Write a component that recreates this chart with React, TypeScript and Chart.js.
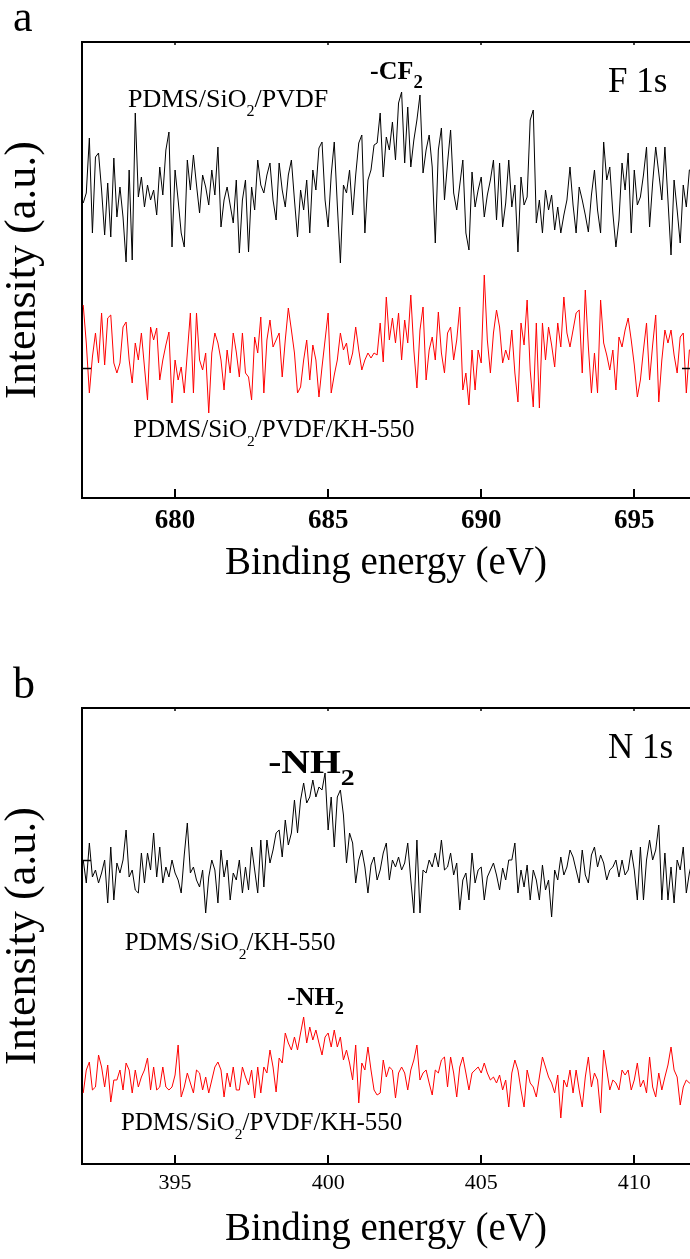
import React, { useEffect, useRef } from "react";
import { Chart, registerables } from "chart.js";

Chart.register(...registerables);

const SERIF = "'Liberation Serif', 'Times New Roman', Times, serif";

// ---------------- data ----------------
const STEP_EV = 0.1;
const F1S_START_EV = 677.0;
const N1S_START_EV = 392.0;

// F 1s, PDMS/SiO2/PVDF (black)
const f1sPdmsSiO2Pvdf = [
  297, 307, 362, 267, 343, 347, 310, 265, 317, 263,
  342, 283, 313, 283, 238, 330, 240, 387, 303, 323,
  293, 315, 300, 310, 285, 333, 305, 350, 368, 253,
  330, 300, 267, 253, 340, 310, 345, 315, 287, 325,
  313, 295, 330, 305, 353, 273, 300, 313, 295, 277,
  320, 247, 300, 320, 248, 313, 290, 340, 315, 307,
  325, 337, 300, 280, 337, 310, 293, 325, 340, 300,
  263, 310, 290, 320, 267, 330, 310, 352, 358, 300,
  273, 325, 358, 295, 237, 315, 307, 330, 285, 325,
  357, 365, 267, 320, 330, 355, 357, 387, 323, 363,
  350, 378, 340, 397, 408, 337, 393, 333, 360, 380,
  405, 327, 350, 365, 333, 257, 350, 372, 300, 337,
  370, 307, 290, 315, 340, 267, 250, 328, 293, 310,
  323, 283, 305, 320, 340, 280, 337, 273, 297, 340,
  293, 315, 248, 323, 295, 303, 380, 390, 277, 300,
  267, 310, 290, 305, 270, 293, 267, 285, 300, 333,
  295, 267, 313, 300, 285, 268, 305, 330, 290, 267,
  358, 320, 333, 287, 253, 280, 337, 310, 347, 267,
  330, 295, 303, 325, 353, 273, 317, 353, 327, 300,
  353, 300, 245, 320, 290, 257, 315, 293, 330, 333,
];

// F 1s, PDMS/SiO2/PVDF/KH-550 (red)
const f1sPdmsSiO2PvdfKh550 = [
  195, 157, 107, 143, 167, 137, 187, 135, 182, 185,
  137, 127, 137, 173, 178, 140, 117, 157, 140, 167,
  133, 100, 173, 160, 172, 120, 140, 155, 168, 97,
  140, 120, 133, 107, 147, 187, 107, 187, 140, 130,
  147, 87, 147, 167, 157, 140, 110, 150, 127, 167,
  148, 123, 167, 127, 123, 100, 163, 147, 183, 107,
  160, 180, 153, 160, 167, 123, 160, 192, 170, 147,
  107, 113, 140, 160, 120, 155, 140, 103, 133, 160,
  187, 107, 125, 140, 167, 150, 157, 135, 147, 173,
  150, 130, 140, 147, 142, 147, 145, 177, 138, 203,
  160, 182, 157, 187, 140, 180, 157, 205, 150, 112,
  170, 193, 120, 150, 163, 140, 188, 147, 127, 167,
  173, 140, 160, 193, 110, 127, 95, 150, 110, 150,
  137, 225, 160, 127, 167, 190, 173, 137, 150, 140,
  170, 127, 98, 177, 155, 200, 130, 93, 177, 92,
  177, 140, 173, 155, 133, 177, 153, 203, 167, 153,
  170, 187, 190, 127, 210, 153, 107, 147, 107, 200,
  157, 145, 130, 150, 110, 163, 153, 170, 182, 160,
  135, 103, 120, 150, 177, 120, 155, 185, 98, 140,
  170, 157, 170, 145, 127, 163, 167, 107, 150, 153,
];

// N 1s, PDMS/SiO2/KH-550 (black)
const n1sPdmsSiO2Kh550 = [
  306, 283, 323, 289, 296, 283, 293, 306, 263, 319,
  266, 303, 293, 306, 336, 289, 296, 276, 273, 313,
  283, 313, 296, 333, 289, 319, 283, 299, 289, 306,
  293, 286, 273, 311, 343, 293, 299, 286, 279, 296,
  253, 289, 306, 296, 263, 316, 289, 306, 266, 293,
  286, 306, 273, 299, 276, 319, 296, 273, 326, 279,
  326, 303, 316, 333, 336, 309, 346, 321, 333, 366,
  333, 366, 383, 363, 369, 386, 369, 379, 376, 393,
  336, 369, 319, 369, 376, 351, 303, 333, 323, 283,
  306, 316, 299, 273, 301, 309, 286, 296, 313, 323,
  286, 306, 299, 309, 296, 303, 323, 286, 253, 326,
  253, 296, 293, 306, 299, 313, 299, 326, 296, 299,
  313, 291, 303, 256, 286, 293, 266, 313, 283, 296,
  299, 266, 289, 296, 303, 291, 276, 298, 286, 306,
  306, 323, 273, 296, 279, 301, 266, 296, 286, 266,
  301, 276, 286, 249, 296, 286, 309, 291, 299, 316,
  309, 296, 283, 316, 291, 283, 311, 319, 299, 311,
  303, 286, 296, 299, 306, 289, 306, 291, 296, 316,
  296, 266, 319, 266, 306, 326, 306, 316, 341, 266,
  313, 266, 299, 263, 306, 296, 319, 273, 293, 306,
];

// N 1s, PDMS/SiO2/PVDF/KH-550 (red)
const n1sPdmsSiO2PvdfKh550 = [
  73, 96, 104, 76, 79, 111, 99, 79, 101, 64,
  86, 86, 96, 76, 103, 96, 73, 96, 79, 89,
  96, 108, 76, 99, 76, 79, 99, 79, 76, 79,
  91, 121, 69, 79, 93, 83, 73, 96, 93, 76,
  89, 73, 86, 99, 104, 96, 69, 93, 79, 99,
  76, 76, 99, 89, 81, 96, 68, 99, 73, 99,
  93, 116, 99, 74, 108, 103, 133, 123, 116, 129,
  116, 133, 149, 123, 139, 126, 136, 123, 111, 129,
  133, 119, 136, 119, 129, 106, 116, 103, 86, 121,
  63, 103, 96, 119, 96, 76, 71, 73, 106, 89,
  99, 96, 68, 93, 99, 93, 76, 96, 106, 121,
  86, 93, 96, 83, 71, 96, 93, 106, 109, 79,
  109, 93, 69, 99, 109, 93, 76, 93, 96, 99,
  93, 103, 93, 86, 89, 83, 91, 76, 86, 59,
  93, 106, 96, 76, 59, 96, 83, 79, 69, 89,
  109, 99, 89, 83, 73, 91, 48, 86, 79, 96,
  73, 96, 76, 59, 89, 109, 79, 93, 86, 53,
  116, 96, 76, 86, 83, 76, 96, 91, 96, 76,
  86, 103, 79, 86, 73, 109, 79, 69, 93, 76,
  89, 101, 119, 96, 89, 61, 79, 86, 83, 86,
];

const f1sTickValues = [680, 685, 690, 695];
const n1sTickValues = [395, 400, 405, 410];
const f1sMarkValues = [132];
const n1sMarkValues = [306];

const X_TITLE = "Binding energy (eV)";
const Y_TITLE = "Intensity (a.u.)";

// ---------------- layout / style ----------------
type Part = { t: string; sub?: boolean };
type Label = {
  parts: Part[];
  x: number;
  y: number;
  size: number;
  bold?: boolean;
  sx?: number;
  subScale?: number;
};

interface PanelCfg {
  key: string;
  top: number;
  height: number;
  chartTop: number;
  xAxisHeight: number;
  xMin: number;
  xMax: number;
  start: number;
  black: number[];
  red: number[];
  ticks: number[];
  marks: number[];
  rightMarks: boolean;
  tickSize: number;
  tickWeight: string;
  tickPadding: number;
  titlePadBottom: number;
  labels: Label[];
}

const panels: PanelCfg[] = [
  {
    key: "a",
    top: 0,
    height: 629,
    chartTop: 42,
    xAxisHeight: 131,
    xMin: 676.96,
    xMax: 696.82,
    start: F1S_START_EV,
    black: f1sPdmsSiO2Pvdf,
    red: f1sPdmsSiO2PvdfKh550,
    ticks: f1sTickValues,
    marks: f1sMarkValues,
    rightMarks: true,
    tickSize: 27,
    tickWeight: "bold",
    tickPadding: 7,
    titlePadBottom: 42,
    labels: [
      { parts: [{ t: "PDMS/SiO" }, { t: "2", sub: true }, { t: "/PVDF" }], x: 678.46, y: 393, size: 26 },
      { parts: [{ t: "-CF" }, { t: "2", sub: true }], x: 686.37, y: 421, size: 26, bold: true, subScale: 0.72 },
      { parts: [{ t: "F 1s" }], x: 694.14, y: 408, size: 35 },
      { parts: [{ t: "PDMS/SiO" }, { t: "2", sub: true }, { t: "/PVDF/KH-550" }], x: 678.63, y: 63, size: 25 },
    ],
  },
  {
    key: "b",
    top: 629,
    height: 630,
    chartTop: 79,
    xAxisHeight: 95,
    xMin: 391.96,
    xMax: 411.82,
    start: N1S_START_EV,
    black: n1sPdmsSiO2Kh550,
    red: n1sPdmsSiO2PvdfKh550,
    ticks: n1sTickValues,
    marks: n1sMarkValues,
    rightMarks: false,
    tickSize: 22,
    tickWeight: "normal",
    tickPadding: 6,
    titlePadBottom: 6,
    labels: [
      { parts: [{ t: "-NH" }, { t: "2", sub: true }], x: 398.04, y: 393, size: 33, bold: true, sx: 1.2, subScale: 0.7 },
      { parts: [{ t: "N 1s" }], x: 409.14, y: 408, size: 35 },
      { parts: [{ t: "PDMS/SiO" }, { t: "2", sub: true }, { t: "/KH-550" }], x: 393.36, y: 216, size: 25 },
      { parts: [{ t: "-NH" }, { t: "2", sub: true }], x: 398.66, y: 161, size: 26, bold: true, subScale: 0.7 },
      { parts: [{ t: "PDMS/SiO" }, { t: "2", sub: true }, { t: "/PVDF/KH-550" }], x: 393.23, y: 36, size: 25 },
    ],
  },
];

function makeDecor(cfg: PanelCfg) {
  return {
    id: "decor-" + cfg.key,
    afterDatasetsDraw(chart: any) {
      const { ctx, chartArea: ca, scales } = chart;
      const xs = scales.x;
      const ys = scales.y;
      ctx.save();
      ctx.strokeStyle = "#000";
      ctx.fillStyle = "#000";
      // top frame line
      ctx.lineWidth = 2;
      ctx.beginPath();
      ctx.moveTo(ca.left - 1, ca.top);
      ctx.lineTo(ca.right, ca.top);
      ctx.stroke();
      // x tick marks (inward, bottom and top)
      xs.ticks.forEach((t: any) => {
        const px = Math.round(xs.getPixelForValue(t.value));
        ctx.lineWidth = 2;
        ctx.beginPath();
        ctx.moveTo(px, ca.bottom);
        ctx.lineTo(px, ca.bottom - 9);
        ctx.stroke();
        ctx.lineWidth = 1.5;
        ctx.beginPath();
        ctx.moveTo(px, ca.top);
        ctx.lineTo(px, ca.top + 3);
        ctx.stroke();
      });
      // y tick marks
      ys.ticks.forEach((t: any) => {
        const py = Math.round(ys.getPixelForValue(t.value)) + 0.5;
        ctx.lineWidth = 1.5;
        ctx.beginPath();
        ctx.moveTo(ca.left, py);
        ctx.lineTo(ca.left + 9, py);
        ctx.stroke();
        if (cfg.rightMarks) {
          ctx.beginPath();
          ctx.moveTo(ca.right - 8, py);
          ctx.lineTo(ca.right, py);
          ctx.stroke();
        }
      });
      // text labels
      ctx.textBaseline = "alphabetic";
      ctx.textAlign = "left";
      cfg.labels.forEach((lb) => {
        const px = xs.getPixelForValue(lb.x);
        const py = ys.getPixelForValue(lb.y);
        const sx = lb.sx ?? 1;
        const subScale = lb.subScale ?? 0.62;
        ctx.save();
        ctx.translate(px, py);
        ctx.scale(sx, 1);
        let cx = 0;
        lb.parts.forEach((p) => {
          const size = p.sub ? lb.size * subScale : lb.size;
          ctx.font = `${lb.bold ? "bold " : ""}${size}px ${SERIF}`;
          ctx.fillText(p.t, cx, p.sub ? lb.size * 0.36 : 0);
          cx += ctx.measureText(p.t).width;
        });
        ctx.restore();
      });
      ctx.restore();
    },
  };
}

function Panel({ cfg }: { cfg: PanelCfg }) {
  const ref = useRef<HTMLCanvasElement>(null);
  useEffect(() => {
    const canvas = ref.current;
    if (!canvas) return;
    const toPoints = (vals: number[]) =>
      vals.map((v, i) => ({ x: +(cfg.start + i * STEP_EV).toFixed(2), y: v }));
    const chart = new Chart(canvas, {
      type: "line",
      data: {
        datasets: [
          {
            data: toPoints(cfg.black),
            borderColor: "#000000",
            borderWidth: 1,
            pointRadius: 0,
            tension: 0,
            fill: false,
          },
          {
            data: toPoints(cfg.red),
            borderColor: "#ff0000",
            borderWidth: 1,
            pointRadius: 0,
            tension: 0,
            fill: false,
          },
        ],
      },
      options: {
        responsive: false,
        maintainAspectRatio: false,
        animation: false,
        devicePixelRatio: 1,
        layout: { padding: { top: cfg.chartTop, left: 0, right: 0, bottom: 0 } },
        plugins: { legend: { display: false }, tooltip: { enabled: false } },
        scales: {
          x: {
            type: "linear",
            bounds: "data",
            min: cfg.xMin,
            max: cfg.xMax,
            afterBuildTicks: (s: any) => {
              s.ticks = cfg.ticks.map((v) => ({ value: v }));
            },
            afterFit: (s: any) => {
              s.height = cfg.xAxisHeight;
            },
            grid: { display: false, drawTicks: false },
            border: { display: true, color: "#000", width: 2 },
            ticks: {
              color: "#000",
              padding: cfg.tickPadding,
              maxRotation: 0,
              autoSkip: false,
              font: { family: SERIF, size: cfg.tickSize, weight: cfg.tickWeight as any },
              callback: (v: any) => String(v),
            },
            title: {
              display: true,
              text: X_TITLE,
              color: "#000",
              font: { family: SERIF, size: 39, lineHeight: 1.2 },
              padding: { top: 0, bottom: cfg.titlePadBottom },
            },
          },
          y: {
            type: "linear",
            bounds: "data",
            min: 2,
            max: 458,
            afterBuildTicks: (s: any) => {
              s.ticks = cfg.marks.map((v) => ({ value: v }));
            },
            afterFit: (s: any) => {
              s.width = 82;
            },
            grid: { display: false, drawTicks: false },
            border: { display: true, color: "#000", width: 2 },
            ticks: { display: false },
            title: {
              display: true,
              text: Y_TITLE,
              color: "#000",
              font: { family: SERIF, size: 44, lineHeight: 1 },
              padding: { top: 1, bottom: 0 },
            },
          },
        },
      },
      plugins: [makeDecor(cfg)],
    } as any);
    return () => chart.destroy();
  }, [cfg]);
  return (
    <canvas
      ref={ref}
      width={690}
      height={cfg.height}
      style={{ position: "absolute", left: 0, top: cfg.top, width: 690, height: cfg.height, display: "block" }}
    />
  );
}

export default function App() {
  const letterStyle: React.CSSProperties = {
    position: "absolute",
    left: 13,
    fontFamily: SERIF,
    fontSize: 44,
    lineHeight: "44px",
    color: "#000",
  };
  return (
    <div
      style={{
        position: "absolute",
        left: 0,
        top: 0,
        width: 690,
        height: 1259,
        background: "#fff",
        overflow: "hidden",
      }}
    >
      {panels.map((p) => (
        <Panel key={p.key} cfg={p} />
      ))}
      <div style={{ ...letterStyle, top: -5 }}>a</div>
      <div style={{ ...letterStyle, top: 662 }}>b</div>
    </div>
  );
}
